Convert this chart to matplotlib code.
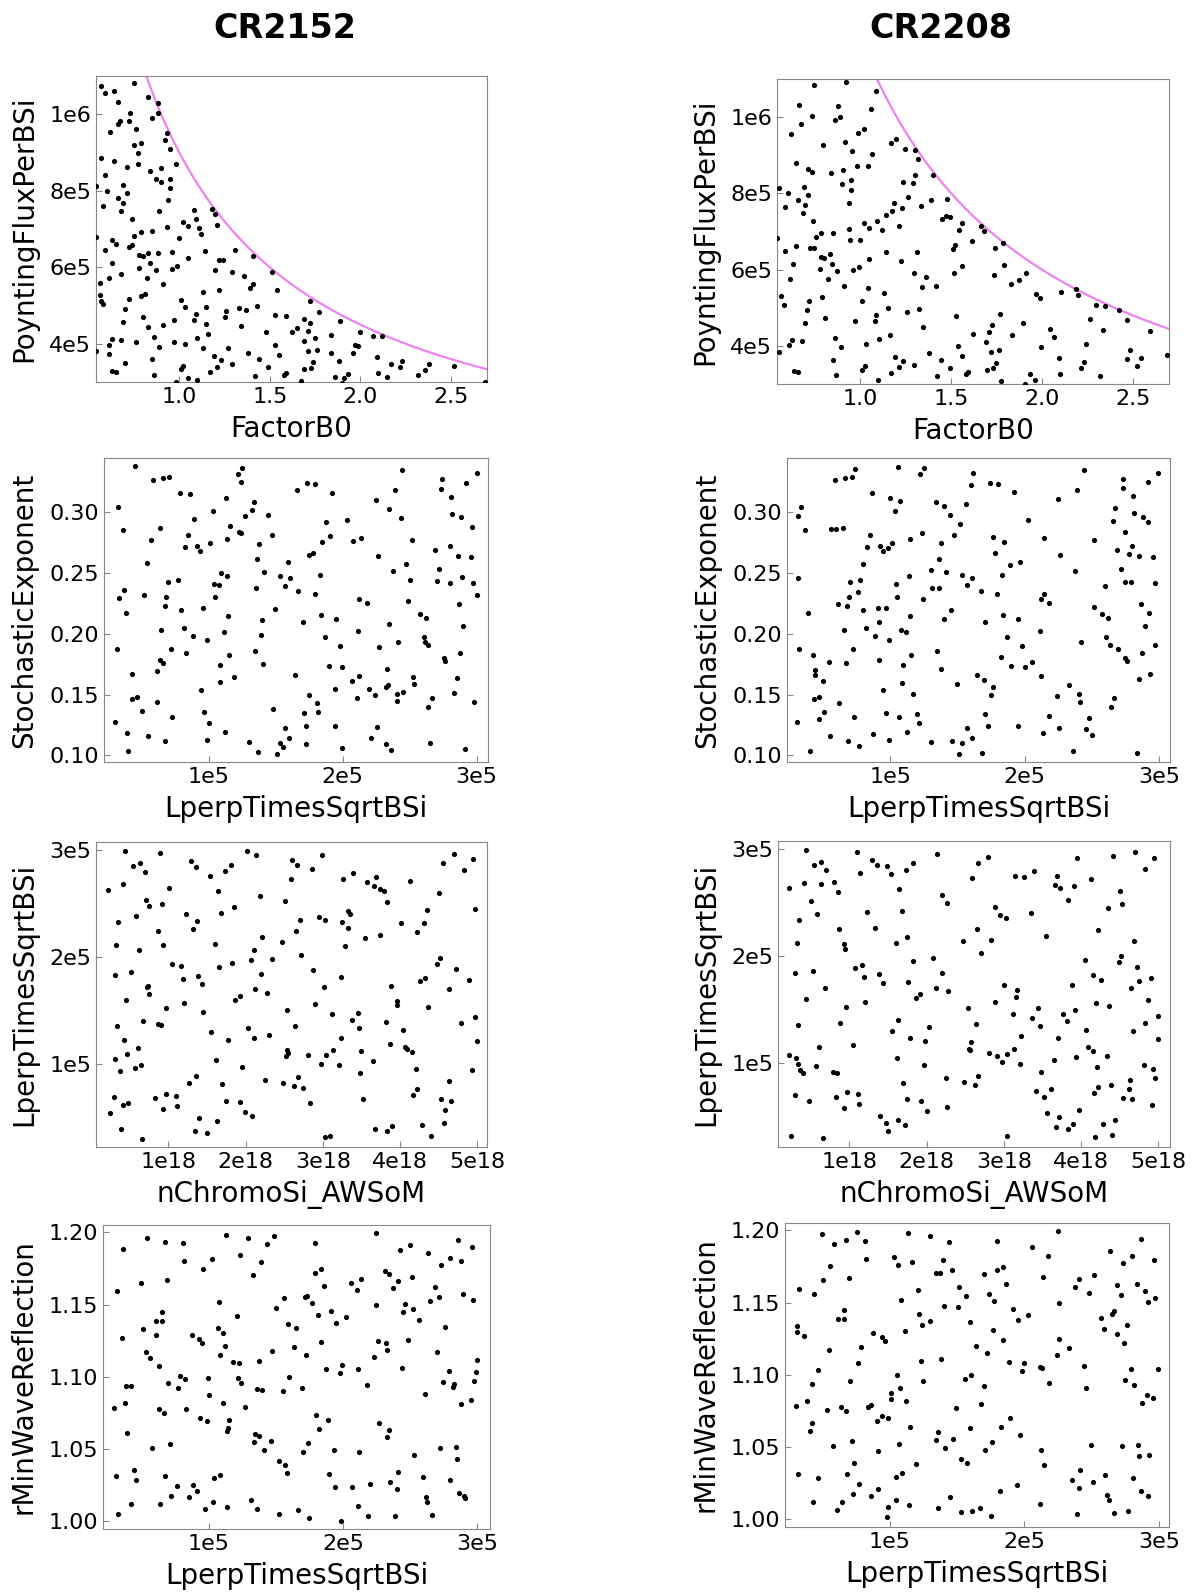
import matplotlib
matplotlib.use("Agg")
import matplotlib.pyplot as plt
import numpy as np

# ---------------------------------------------------------------------------
# Valeurs (x, y) pour chaque panneau
# ---------------------------------------------------------------------------
# Ligne 1 : FactorB0 vs PoyntingFluxPerBSi (y en unites de 1e5)
b0_pflux_2152 = [
    (0.57,10.75),(0.75,10.83),(0.59,10.55),(0.64,10.61),(0.66,10.32),(0.83,10.45),(0.88,10.29),(0.85,9.91),
    (0.88,10.02),(0.73,10.03),(0.72,9.83),(0.67,9.82),(0.66,9.74),(0.76,9.62),(0.62,9.54),(0.93,9.52),
    (0.92,9.32),(0.75,9.19),(0.79,9.25),(0.77,9.00),(0.95,9.08),(0.57,8.85),(0.64,8.79),(0.71,8.62),
    (0.77,8.69),(0.98,8.70),(0.90,8.60),(0.84,8.52),(0.59,8.41),(0.87,8.31),(0.90,8.23),(0.95,8.32),
    (0.95,8.06),(0.54,8.12),(0.69,8.16),(0.60,8.00),(0.71,7.94),(0.66,7.81),(0.69,7.67),(0.94,7.75),
    (0.58,7.61),(0.68,7.47),(0.89,7.46),(1.18,7.53),(1.08,7.50),(1.20,7.39),(0.74,7.26),(1.02,7.18),
    (1.05,7.07),(1.09,7.25),(1.11,7.02),(1.21,7.11),(1.12,6.88),(0.93,7.05),(0.79,6.92),(0.85,6.94),
    (0.75,6.83),(0.54,6.80),(1.00,6.76),(0.63,6.71),(0.65,6.60),(0.72,6.54),(0.74,6.57),(0.59,6.46),
    (1.14,6.43),(1.31,6.44),(0.96,6.40),(0.83,6.38),(0.88,6.36),(0.78,6.32),(0.80,6.30),(1.05,6.25),
    (1.41,6.29),(1.22,6.18),(1.24,6.19),(0.63,6.11),(0.84,6.12),(0.78,5.99),(0.96,5.96),(0.99,6.04),
    (0.87,5.94),(1.20,5.92),(1.51,5.88),(1.29,5.87),(1.36,5.78),(0.68,5.82),(0.56,5.58),(0.61,5.73),
    (0.82,5.72),(0.91,5.55),(1.41,5.55),(1.39,5.46),(1.22,5.40),(1.54,5.41),(1.13,5.35),(0.56,5.28),
    (0.81,5.31),(0.79,5.24),(0.57,5.11),(0.58,5.05),(0.72,5.16),(1.01,5.14),(1.72,5.13),(0.70,4.90),
    (1.03,4.95),(1.15,4.96),(1.33,4.93),(1.37,4.89),(1.43,5.00),(1.77,4.82),(1.26,4.85),(1.25,4.69),
    (0.80,4.70),(1.09,4.78),(1.08,4.62),(0.69,4.57),(0.97,4.61),(1.53,4.75),(1.59,4.72),(1.69,4.66),
    (1.72,4.54),(1.89,4.59),(0.83,4.43),(0.91,4.48),(1.15,4.52),(1.34,4.46),(0.63,4.12),(0.61,3.98),
    (0.76,4.05),(0.68,4.09),(0.86,4.17),(1.10,4.14),(1.16,4.26),(1.48,4.32),(1.62,4.30),(1.65,4.41),
    (1.71,4.34),(1.84,4.24),(2.00,4.31),(2.07,4.21),(2.12,4.19),(0.54,3.80),(0.61,3.73),(0.89,3.92),
    (0.97,4.04),(1.03,4.00),(1.13,3.90),(1.27,3.89),(1.38,3.77),(1.53,3.96),(1.55,3.70),(1.69,4.06),
    (1.71,3.81),(1.75,4.15),(1.76,3.84),(1.84,3.75),(1.97,3.96),(1.99,3.93),(1.96,3.75),(0.70,3.50),
    (0.85,3.59),(1.19,3.68),(1.23,3.57),(1.21,3.40),(1.29,3.46),(1.44,3.61),(1.49,3.38),(1.69,3.35),
    (1.73,3.36),(1.74,3.52),(1.88,3.55),(2.09,3.65),(2.17,3.48),(2.23,3.54),(2.22,3.39),(2.38,3.46),
    (2.52,3.42),(0.63,3.30),(0.65,3.26),(0.86,3.18),(1.01,3.33),(1.02,3.43),(1.05,3.10),(1.10,3.05),
    (1.17,3.25),(1.42,3.16),(1.58,3.18),(1.59,3.23),(1.67,3.02),(1.86,3.14),(1.91,3.10),(1.93,3.20),
    (2.10,3.23),(2.15,3.12),(2.32,3.17),(2.36,3.32),(2.69,3.00),(0.98,3.01),(1.90,2.97)]

b0_pflux_2208 = [
    (0.746,10.83),(0.921,10.93),(1.085,10.68),(0.662,10.32),(0.877,10.29),(0.671,9.83),(0.735,10.03),(0.857,9.92),
    (0.886,10.01),(1.059,10.22),(0.618,9.55),(0.989,9.59),(1.020,9.68),(0.917,9.34),(0.794,9.27),(0.954,9.10),
    (1.169,9.32),(1.193,9.42),(1.244,9.17),(1.301,9.13),(1.316,8.89),(1.064,9.02),(0.643,8.80),(0.713,8.65),
    (0.732,8.57),(0.838,8.53),(0.903,8.61),(0.982,8.72),(1.039,8.73),(1.300,8.49),(1.399,8.47),(0.551,8.14),
    (0.601,8.02),(0.687,8.17),(0.710,7.96),(0.658,7.83),(0.693,7.69),(0.682,7.48),(0.583,7.63),(0.899,8.24),
    (0.947,8.34),(0.950,8.09),(0.938,7.76),(1.235,8.30),(1.287,8.27),(1.263,7.91),(1.184,7.75),(1.175,7.54),
    (1.228,7.62),(1.336,7.66),(1.390,7.82),(1.474,7.86),(0.739,7.28),(0.934,7.07),(1.020,7.21),(1.046,7.09),
    (1.116,7.04),(1.092,7.27),(1.138,7.44),(1.210,7.14),(1.450,7.33),(1.471,7.41),(1.493,7.39),(1.562,7.23),
    (1.542,7.05),(1.662,7.15),(1.678,7.00),(0.542,6.82),(0.586,6.48),(0.647,6.61),(0.721,6.56),(0.743,6.58),
    (0.757,6.86),(0.785,6.95),(0.847,6.96),(0.943,6.77),(0.996,6.79),(1.142,6.45),(1.311,6.46),(1.509,6.53),
    (1.522,6.65),(1.616,6.75),(1.741,6.58),(1.787,6.69),(0.629,6.14),(0.614,5.76),(0.776,6.02),(0.783,6.33),
    (0.798,6.31),(0.831,6.40),(0.842,6.15),(0.873,5.97),(0.822,5.75),(0.960,5.98),(0.993,6.06),(1.048,6.27),
    (1.222,6.22),(1.294,5.90),(1.360,5.81),(1.340,5.54),(1.517,5.90),(1.561,6.10),(1.737,5.86),(1.792,6.11),
    (1.827,5.62),(1.875,5.73),(1.910,5.92),(0.561,5.32),(0.579,5.07),(0.717,5.19),(0.704,4.94),(0.695,4.59),
    (0.790,5.27),(0.805,4.74),(0.908,5.57),(1.011,5.18),(1.040,5.52),(0.972,4.64),(1.081,4.66),(1.088,4.80),
    (1.132,5.38),(1.153,5.00),(1.259,4.88),(1.325,4.97),(1.344,4.50),(1.417,5.58),(1.529,4.79),(1.965,5.36),
    (1.987,5.25),(2.105,5.40),(2.186,5.48),(2.199,5.34),(2.300,5.06),(2.346,5.04),(2.426,4.95),(2.467,4.68),
    (1.767,4.83),(1.722,4.56),(1.619,4.32),(1.710,4.37),(1.836,4.28),(1.897,4.61),(2.046,4.44),(2.068,4.24),
    (2.265,4.71),(2.338,4.42),(2.597,4.38),(0.553,3.83),(0.608,4.03),(0.625,4.15),(0.678,4.12),(0.858,4.20),
    (0.893,3.96),(1.033,4.04),(1.103,4.17),(1.164,4.29),(0.851,3.62),(0.866,3.23),(1.007,3.37),(1.024,3.48),
    (1.097,3.10),(1.169,3.28),(1.189,3.72),(1.213,3.45),(1.232,3.61),(1.296,3.51),(1.379,3.82),(1.441,3.64),
    (1.421,3.20),(1.494,3.41),(1.535,4.00),(1.557,3.74),(1.581,3.25),(1.590,3.31),(1.689,4.10),(1.717,3.84),
    (1.699,3.38),(1.732,3.41),(1.746,3.55),(1.761,3.88),(1.774,3.07),(1.906,3.01),(1.936,3.26),(1.963,3.11),
    (1.993,3.97),(2.096,3.69),(2.099,3.27),(2.241,4.05),(2.232,3.57),(2.215,3.43),(2.322,3.21),(2.471,3.66),
    (2.483,3.89),(2.524,3.46),(2.546,3.67),(2.689,3.76),(0.632,3.33),(0.653,3.31)]

# Ligne 2 : LperpTimesSqrtBSi (x en 1e5) vs StochasticExponent
lperp_stoch_2152 = [
    (0.449,0.338),(0.581,0.3263),(0.656,0.3282),(0.703,0.3293),(1.244,0.3364),(1.219,0.3312),(1.242,0.3249),(3.0,0.3323),
    (2.738,0.3274),(2.444,0.3351),(2.92,0.3244),(1.656,0.3186),(1.733,0.3238),(1.796,0.323),(1.918,0.3162),(0.781,0.3159),
    (0.858,0.3153),(1.127,0.3118),(2.249,0.3104),(2.389,0.3181),(2.731,0.3195),(2.808,0.3129),(0.322,0.3041),(1.03,0.3008),
    (1.322,0.3019),(1.339,0.3085),(1.272,0.2967),(1.441,0.2981),(2.03,0.2937),(1.878,0.2923),(2.344,0.3027),(2.434,0.2953),
    (2.818,0.2989),(2.883,0.2962),(0.888,0.2942),(0.357,0.2855),(0.638,0.2874),(1.155,0.289),(1.227,0.2841),(1.237,0.2833),
    (2.965,0.2882),(0.843,0.2811),(1.469,0.2816),(1.908,0.2803),(2.075,0.2764),(2.14,0.2789),(0.569,0.277),(0.82,0.2715),
    (0.915,0.2726),(0.935,0.2682),(1.007,0.2751),(1.137,0.2778),(1.377,0.2742),(1.843,0.2756),(2.521,0.2773),(2.688,0.2693),
    (2.8,0.2721),(0.541,0.2581),(1.359,0.2616),(1.589,0.2594),(1.746,0.2647),(1.778,0.2666),(2.264,0.2644),(2.858,0.2638),
    (2.96,0.263),(2.721,0.2534),(2.379,0.252),(2.471,0.2575),(0.771,0.2444),(0.693,0.2427),(1.092,0.2499),(1.132,0.2477),
    (1.042,0.2414),(1.077,0.2403),(1.414,0.251),(1.534,0.2479),(1.606,0.246),(1.566,0.2397),(1.828,0.2485),(2.506,0.2447),
    (2.703,0.2438),(2.798,0.2422),(2.89,0.2466),(2.975,0.2416),(0.367,0.2362),(0.329,0.2293),(0.514,0.2318),(0.683,0.2304),
    (1.047,0.2299),(1.354,0.2381),(1.668,0.2356),(1.793,0.2331),(2.125,0.2285),(2.185,0.2255),(2.486,0.2266),(2.868,0.2249),
    (3.005,0.232),(0.379,0.217),(0.671,0.2227),(0.791,0.2197),(0.958,0.2216),(1.145,0.2145),(1.394,0.2115),(1.494,0.2205),
    (1.703,0.2101),(1.838,0.2151),(1.953,0.2118),(2.349,0.2077),(2.574,0.2159),(2.623,0.2129),(2.9,0.2068),(0.643,0.2033),
    (0.813,0.2044),(0.88,0.1986),(1.11,0.2011),(1.389,0.1992),(0.983,0.1951),(1.865,0.1975),(2.115,0.2025),(2.416,0.1929),
    (2.606,0.1973),(2.618,0.1931),(2.636,0.1907),(0.312,0.1877),(0.716,0.1871),(0.828,0.1846),(1.15,0.1827),(1.344,0.1855),
    (1.978,0.1896),(2.274,0.189),(2.875,0.1844),(2.753,0.18),(2.761,0.1778),(0.633,0.1781),(0.658,0.1759),(0.616,0.169),
    (1.085,0.1742),(1.404,0.1748),(0.429,0.1666),(1.641,0.166),(1.895,0.1731),(1.998,0.1726),(2.12,0.1655),(2.07,0.1614),
    (2.332,0.1712),(2.526,0.1644),(2.85,0.1633),(1.082,0.16),(1.187,0.1641),(0.945,0.1537),(1.94,0.1545),(2.195,0.1542),
    (2.239,0.1493),(2.322,0.1559),(2.337,0.1575),(2.406,0.1507),(2.449,0.152),(2.536,0.1583),(0.424,0.1463),(0.464,0.1477),
    (0.611,0.1436),(1.751,0.1496),(1.81,0.1427),(2.11,0.1471),(2.409,0.1444),(2.668,0.1474),(2.833,0.1512),(2.98,0.1441),
    (0.499,0.1364),(1.481,0.1378),(0.963,0.1353),(0.728,0.1318),(1.815,0.1356),(2.638,0.1397),(1.711,0.1345),(0.297,0.1274),
    (0.389,0.1181),(0.546,0.1162),(0.676,0.1118),(0.998,0.1263),(1.117,0.1194),(0.985,0.1129),(1.571,0.1224),(1.728,0.1238),
    (1.945,0.1244),(2.254,0.123),(2.212,0.114),(1.299,0.1112),(1.529,0.1104),(1.599,0.1142),(1.556,0.1066),(1.723,0.1091),
    (2.324,0.1096),(2.357,0.1041),(2.651,0.1098),(2.91,0.1052),(0.397,0.1035),(1.367,0.1027),(1.506,0.1014),(1.993,0.1057)]

lperp_stoch_2208 = [
    (1.057,0.3375),(1.25,0.3364),(1.223,0.3315),(0.735,0.3359),(0.713,0.3293),(0.661,0.3285),(0.587,0.3266),(1.614,0.3323),
    (1.597,0.3222),(1.738,0.3238),(1.802,0.323),(2.443,0.3351),(2.733,0.3274),(2.918,0.3247),(2.993,0.3326),(0.861,0.3156),
    (1.918,0.3164),(2.389,0.3184),(2.728,0.3197),(2.802,0.3132),(0.998,0.3115),(1.072,0.3093),(1.035,0.3011),(1.342,0.3088),
    (1.401,0.3055),(1.446,0.2981),(1.564,0.3068),(2.248,0.3107),(2.668,0.3038),(2.814,0.2992),(2.879,0.2962),(2.913,0.2921),
    (0.317,0.2973),(0.334,0.3044),(0.366,0.2855),(0.559,0.286),(0.594,0.2866),(0.646,0.2874),(2.027,0.2937),(2.653,0.2932),
    (2.743,0.2838),(1.515,0.2904),(0.847,0.2811),(1.235,0.2833),(1.475,0.2816),(1.765,0.2797),(1.844,0.2756),(2.144,0.2789),
    (2.517,0.2773),(2.686,0.2693),(2.797,0.2721),(2.772,0.2655),(2.851,0.2641),(2.95,0.263),(0.829,0.2715),(0.921,0.2726),
    (0.943,0.2685),(0.98,0.2704),(1.012,0.2751),(1.144,0.2778),(1.379,0.2745),(1.78,0.2668),(2.262,0.2647),(0.795,0.2573),
    (1.364,0.2616),(1.418,0.251),(1.3,0.2523),(1.968,0.2589),(1.891,0.2567),(2.376,0.252),(2.715,0.2534),(0.312,0.2458),
    (0.7,0.2427),(0.777,0.2444),(1.045,0.2414),(1.139,0.2477),(1.312,0.2373),(1.359,0.2381),(1.537,0.2482),(1.569,0.24),
    (1.606,0.2463),(1.673,0.2356),(1.829,0.2485),(1.797,0.2331),(2.594,0.2394),(2.745,0.2425),(2.792,0.2425),(2.97,0.2419),
    (0.691,0.2304),(0.76,0.2345),(0.611,0.2244),(0.681,0.2227),(0.911,0.2214),(0.965,0.2216),(1.05,0.2301),(0.797,0.22),
    (1.149,0.2145),(1.24,0.229),(1.455,0.2194),(1.399,0.2118),(1.708,0.2101),(1.839,0.2151),(1.953,0.212),(2.121,0.2285),
    (2.146,0.2326),(2.183,0.2255),(2.515,0.2222),(2.572,0.2159),(2.619,0.2131),(2.861,0.2249),(2.923,0.2175),(2.894,0.2068),
    (0.386,0.217),(0.653,0.2033),(0.819,0.2044),(0.884,0.1986),(0.916,0.2096),(0.988,0.1951),(1.079,0.203),(1.116,0.2011),
    (2.114,0.2025),(1.866,0.1975),(2.416,0.1929),(2.604,0.1973),(2.631,0.1907),(2.691,0.1879),(2.965,0.1909),(0.319,0.1874),
    (0.426,0.1822),(0.723,0.1871),(0.668,0.1756),(0.918,0.1783),(1.094,0.174),(1.153,0.1827),(1.349,0.1855),(1.376,0.1707),
    (1.822,0.1811),(1.899,0.1731),(1.978,0.1896),(2.0,0.1726),(2.057,0.1764),(2.748,0.18),(2.762,0.1775),(2.869,0.1844),
    (2.928,0.1668),(0.441,0.1704),(0.438,0.1663),(0.502,0.1608),(1.089,0.1597),(1.644,0.166),(1.698,0.1622),(1.767,0.1564),
    (1.752,0.1493),(1.498,0.1589),(2.121,0.1655),(0.433,0.1463),(0.473,0.1477),(0.619,0.1433),(0.542,0.1772),(0.948,0.1534),
    (1.168,0.1501),(2.238,0.149),(2.332,0.1578),(2.406,0.1501),(2.411,0.1441),(2.639,0.1394),(2.663,0.1471),(2.847,0.163),
    (0.507,0.1359),(0.468,0.1298),(0.733,0.1315),(0.97,0.135),(1.067,0.1318),(1.198,0.1339),(1.213,0.1263),(1.708,0.1342),
    (1.73,0.1238),(1.948,0.1241),(2.178,0.1323),(2.255,0.1227),(2.48,0.1304),(2.458,0.1216),(0.554,0.1159),(0.686,0.1115),
    (0.767,0.1079),(0.869,0.1175),(0.993,0.1123),(1.121,0.1192),(1.304,0.1109),(1.46,0.112),(1.532,0.1101),(1.574,0.1222),
    (1.604,0.114),(1.51,0.1011),(1.683,0.1016),(2.136,0.1183),(2.359,0.1038),(2.498,0.1164),(2.837,0.1019),(0.307,0.1271),
    (0.403,0.1033)]

# Ligne 3 : nChromoSi_AWSoM (x en 1e18) vs LperpTimesSqrtBSi (y en 1e5)
nchromo_lperp_2152 = [
    (0.436,2.994),(0.888,2.975),(2.02,2.997),(2.136,2.953),(2.993,2.959),(4.693,2.969),(4.943,2.916),(0.544,2.85),
    (0.63,2.878),(0.699,2.797),(1.293,2.897),(1.357,2.844),(1.818,2.866),(1.732,2.803),(1.542,2.759),(2.606,2.906),
    (2.666,2.863),(2.855,2.828),(2.588,2.728),(3.256,2.734),(3.389,2.791),(3.57,2.70),(3.682,2.747),(3.665,2.663),
    (3.734,2.641),(3.798,2.616),(3.824,2.516),(4.13,2.716),(4.56,2.884),(4.827,2.816),(0.217,2.631),(0.41,2.684),
    (1.013,2.647),(1.646,2.619),(2.192,2.569),(4.504,2.60),(0.716,2.531),(0.755,2.484),(0.918,2.50),(1.848,2.469),
    (2.511,2.522),(4.973,2.447),(0.35,2.331),(0.578,2.388),(1.228,2.406),(1.379,2.341),(1.684,2.413),(1.327,2.263),
    (0.867,2.25),(2.70,2.347),(2.653,2.247),(2.95,2.375),(3.023,2.353),(3.247,2.325),(3.325,2.428),(3.355,2.403),
    (3.325,2.272),(4.013,2.316),(4.349,2.441),(4.31,2.322),(4.224,2.234),(3.544,2.181),(3.738,2.209),(0.324,2.119),
    (0.621,2.072),(0.935,2.113),(1.607,2.122),(2.21,2.191),(2.115,2.066),(2.472,2.138),(3.286,2.106),(2.713,2.025),
    (4.513,1.994),(4.483,1.941),(0.307,1.834),(0.522,1.863),(1.043,1.938),(1.168,1.916),(1.194,1.797),(1.387,1.822),
    (1.435,1.747),(1.659,1.906),(1.827,1.95),(2.076,1.975),(2.339,1.984),(2.201,1.841),(2.124,1.703),(2.279,1.666),
    (2.873,1.878),(3.009,1.725),(3.238,1.813),(3.876,1.731),(4.254,1.775),(4.323,1.806),(4.719,1.894),(4.638,1.70),
    (4.896,1.791),(0.449,1.597),(0.733,1.734),(0.724,1.719),(0.746,1.656),(1.202,1.569),(1.452,1.488),(1.865,1.60),
    (1.926,1.638),(2.537,1.503),(2.894,1.563),(3.957,1.591),(3.966,1.553),(4.358,1.531),(4.784,1.384),(4.973,1.441),
    (0.341,1.353),(0.677,1.403),(0.867,1.375),(0.91,1.363),(0.966,1.525),(1.551,1.297),(1.779,1.228),(2.037,1.338),
    (2.106,1.241),(2.304,1.272),(2.644,1.359),(3.122,1.466),(3.23,1.247),(3.372,1.413),(3.45,1.475),(3.467,1.341),
    (3.815,1.391),(4.035,1.322),(3.871,1.184),(4.995,1.219),(0.427,1.222),(0.316,1.044),(0.466,1.094),(0.608,1.147),
    (0.57,0.963),(0.647,0.994),(0.371,0.934),(1.62,1.038),(1.96,0.978),(2.537,1.134),(2.55,1.106),(2.528,1.078),
    (2.804,1.088),(2.976,1.003),(3.036,1.081),(3.131,1.131),(3.208,0.988),(3.493,1.125),(3.48,0.916),(3.647,1.028),
    (4.069,1.156),(4.095,1.144),(4.155,1.109),(4.207,0.959),(4.926,0.941),(1.263,0.828),(1.366,0.888),(1.693,0.813),
    (2.253,0.856),(2.485,0.822),(2.632,0.791),(2.675,0.878),(2.748,0.781),(0.294,0.691),(0.419,0.616),(0.475,0.638),
    (0.832,0.681),(0.927,0.578),(0.97,0.725),(1.103,0.703),(1.116,0.609),(1.396,0.497),(1.753,0.656),(1.93,0.647),
    (1.999,0.55),(2.085,0.513),(2.83,0.634),(3.514,0.678),(4.168,0.716),(4.216,0.769),(4.629,0.838),(4.53,0.672),
    (4.655,0.659),(4.586,0.569),(0.242,0.544),(0.389,0.391),(0.66,0.30),(1.344,0.372),(1.504,0.359),(1.633,0.466),
    (3.032,0.316),(3.096,0.331),(3.669,0.397),(3.833,0.378),(3.897,0.422),(4.285,0.428),(4.401,0.325),(4.573,0.45)]

nchromo_lperp_2208 = [
    (0.435,2.994),(1.095,2.969),(2.138,2.956),(4.698,2.975),(2.797,2.922),(3.944,2.913),(4.409,2.931),(4.948,2.919),
    (0.543,2.853),(0.634,2.881),(0.694,2.80),(1.293,2.897),(1.358,2.85),(1.487,2.838),(1.539,2.763),(1.733,2.807),
    (1.819,2.869),(2.664,2.866),(1.138,2.772),(2.586,2.729),(3.142,2.744),(3.259,2.735),(3.397,2.794),(4.832,2.816),
    (0.216,2.632),(0.409,2.685),(0.638,2.669),(0.802,2.691),(0.858,2.594),(1.647,2.622),(3.69,2.75),(3.728,2.638),
    (3.668,2.663),(3.914,2.654),(4.134,2.719),(2.194,2.573),(2.259,2.498),(4.509,2.604),(4.53,2.482),(3.828,2.52),
    (0.504,2.513),(0.582,2.392),(0.345,2.332),(1.233,2.41),(1.685,2.417),(2.884,2.46),(2.957,2.379),(3.03,2.357),
    (3.353,2.404),(4.349,2.445),(0.871,2.254),(1.328,2.264),(2.655,2.248),(4.224,2.239),(0.319,2.117),(0.935,2.111),
    (0.948,2.061),(1.608,2.123),(1.746,2.179),(2.474,2.139),(2.84,2.145),(2.711,2.027),(3.547,2.186),(4.685,2.136),
    (4.517,2.0),(4.487,1.945),(0.302,1.839),(0.526,1.864),(0.685,1.696),(1.078,1.889),(1.168,1.92),(1.194,1.799),
    (1.388,1.827),(1.431,1.752),(1.828,1.952),(1.763,1.761),(2.078,1.977),(2.203,1.842),(2.125,1.705),(2.276,1.671),
    (1.922,1.643),(1.866,1.605),(4.047,1.967),(4.151,1.821),(4.259,1.777),(4.728,1.896),(4.75,1.768),(4.642,1.702),
    (4.901,1.796),(0.444,1.599),(0.961,1.527),(1.203,1.574),(2.539,1.509),(2.642,1.362),(2.892,1.568),(3.009,1.727),
    (3.172,1.68),(3.155,1.612),(3.12,1.46),(3.444,1.509),(3.371,1.418),(3.47,1.346),(3.884,1.733),(3.767,1.456),
    (3.819,1.393),(3.922,1.499),(4.198,1.562),(4.362,1.534),(4.871,1.593),(0.336,1.356),(0.879,1.378),(1.547,1.303),
    (1.629,1.403),(2.034,1.34),(1.983,1.209),(1.78,1.234),(3.228,1.25),(3.698,1.237),(4.065,1.309),(4.823,1.371),
    (4.668,1.296),(4.991,1.443),(5.0,1.222),(0.603,1.153),(0.224,1.075),(0.31,1.047),(0.332,0.994),(0.366,0.938),
    (0.397,0.906),(0.569,0.969),(1.047,1.169),(0.789,0.913),(0.845,0.903),(1.621,1.044),(1.961,0.981),(2.565,1.119),
    (2.578,1.193),(2.556,1.134),(2.806,1.09),(2.909,1.066),(2.983,1.009),(3.039,1.087),(3.129,1.134),(3.211,0.988),
    (3.651,1.031),(3.931,1.056),(4.091,1.147),(4.159,1.112),(4.207,0.963),(4.336,1.069),(4.81,0.978),(4.931,0.947),
    (4.957,0.863),(1.694,0.816),(2.25,0.86),(2.487,0.825),(2.629,0.794),(2.672,0.881),(3.478,0.919),(0.293,0.697),
    (0.474,0.644),(0.828,0.685),(0.927,0.582),(0.97,0.729),(1.108,0.707),(1.121,0.616),(1.397,0.501),(1.474,0.438),
    (1.504,0.36),(1.629,0.47),(1.72,0.42),(1.75,0.66),(1.931,0.647),(2.004,0.551),(2.267,0.588),(3.418,0.735),
    (3.517,0.679),(3.56,0.535),(3.612,0.76),(3.711,0.495),(3.672,0.398),(3.836,0.382),(3.901,0.426),(3.974,0.557),
    (4.172,0.719),(4.216,0.772),(4.384,0.791),(4.629,0.841),(4.625,0.754),(4.539,0.676),(4.659,0.663),(4.922,0.61),
    (4.289,0.432),(4.44,0.463),(4.181,0.307),(4.401,0.329),(0.25,0.314),(0.655,0.301),(3.047,0.32)]

# Ligne 4 : LperpTimesSqrtBSi (x en 1e5) vs rMinWaveReflection
lperp_rmin_2152 = [
    (0.537,1.1961),(0.672,1.1935),(0.806,1.1924),(1.127,1.1979),(1.296,1.1963),(1.485,1.1972),(1.435,1.1919),(2.244,1.1995),
    (1.791,1.1928),(2.861,1.1945),(2.96,1.1901),(2.5,1.1912),(0.363,1.1882),(2.428,1.1875),(2.632,1.1859),(1.236,1.1841),
    (1.022,1.1815),(0.818,1.1799),(1.388,1.1794),(2.799,1.1824),(2.883,1.1804),(0.958,1.1744),(1.333,1.1704),(1.789,1.1721),
    (1.838,1.1748),(2.313,1.1734),(2.343,1.1711),(2.731,1.1776),(2.515,1.1691),(0.318,1.1596),(0.493,1.1651),(0.687,1.1667),
    (2.408,1.1665),(2.684,1.1624),(1.856,1.1628),(2.062,1.1649),(2.102,1.16),(2.134,1.1679),(2.376,1.1612),(1.077,1.152),
    (1.56,1.1543),(1.714,1.155),(1.729,1.1559),(1.771,1.1513),(2.647,1.1524),(2.716,1.1552),(2.898,1.1575),(2.97,1.1529),
    (1.5,1.1473),(0.649,1.1448),(0.604,1.1383),(0.654,1.1388),(1.214,1.1423),(1.811,1.1427),(1.913,1.1455),(1.945,1.1374),
    (2.02,1.1411),(2.249,1.1499),(2.465,1.1506),(2.445,1.145),(2.52,1.1469),(2.57,1.1395),(0.51,1.1328),(1.07,1.1335),
    (1.107,1.1305),(1.59,1.1367),(1.652,1.1337),(2.759,1.1344),(0.353,1.1268),(0.609,1.1291),(0.871,1.1289),(0.93,1.1261),
    (0.953,1.1231),(1.119,1.1215),(1.833,1.124),(2.261,1.1247),(2.321,1.1236),(2.331,1.1182),(2.483,1.1256),(2.231,1.1136),
    (0.535,1.1171),(0.565,1.1127),(0.629,1.1076),(1.085,1.1152),(1.473,1.118),(1.637,1.1203),(1.724,1.1148),(1.182,1.1099),
    (1.226,1.1095),(1.371,1.1106),(2.699,1.1169),(3.0,1.1118),(1.876,1.1055),(1.975,1.1023),(1.995,1.1081),(2.109,1.1051),
    (2.443,1.106),(2.791,1.1039),(2.993,1.1035),(2.978,1.0968),(2.749,1.0963),(2.818,1.0931),(2.831,1.0947),(2.878,1.0808),
    (2.955,1.0838),(0.383,1.0938),(0.418,1.0935),(0.699,1.0958),(0.786,1.1005),(0.821,1.0984),(0.774,1.0919),(0.993,1.0991),
    (1.219,1.0988),(1.241,1.0954),(1.361,1.0915),(1.398,1.0905),(1.6,1.0995),(1.55,1.0898),(1.697,1.0924),(2.179,1.0945),
    (2.612,1.088),(0.291,1.0783),(0.373,1.082),(0.632,1.0778),(0.667,1.0748),(0.833,1.0774),(0.938,1.0716),(0.983,1.0695),
    (1.002,1.0871),(1.109,1.0815),(1.149,1.0702),(1.142,1.0647),(1.139,1.0626),(1.269,1.0788),(1.801,1.0734),(1.891,1.0697),
    (1.821,1.064),(2.271,1.0677),(2.343,1.0628),(2.326,1.0582),(1.338,1.0547),(1.348,1.0603),(1.378,1.0587),(1.41,1.049),
    (1.465,1.0554),(0.388,1.0612),(0.575,1.0506),(0.711,1.0536),(1.525,1.0413),(1.567,1.039),(1.582,1.0335),(1.701,1.048),
    (1.739,1.0538),(1.935,1.0494),(2.119,1.0476),(2.726,1.0503),(2.846,1.0513),(2.853,1.0432),(2.532,1.0455),(0.308,1.0312),
    (0.445,1.0351),(0.46,1.0286),(0.677,1.0314),(0.766,1.0245),(0.883,1.0249),(0.91,1.021),(0.721,1.0171),(0.851,1.0164),
    (1.042,1.0296),(1.085,1.0319),(1.9,1.0323),(1.94,1.0236),(2.07,1.0238),(2.204,1.0259),(2.351,1.027),(2.403,1.0219),
    (2.413,1.0342),(2.6,1.0303),(2.801,1.0282),(2.866,1.0196),(2.9,1.0176),(2.91,1.0162),(2.617,1.0169),(2.627,1.0134),
    (0.423,1.0118),(0.639,1.0115),(0.975,1.0085),(1.035,1.0129),(1.132,1.0099),(1.316,1.0145),(1.356,1.0083),(1.522,1.0051),
    (1.662,1.0074),(1.746,1.0018),(1.985,1.0002),(2.114,1.0104),(2.189,1.0032),(2.386,1.0035),(2.664,1.0039),(0.323,1.0048)]

lperp_rmin_2208 = [
    (0.495,1.1977),(0.752,1.1989),(0.587,1.1908),(0.676,1.1936),(0.812,1.1924),(1.134,1.1979),(1.3,1.1961),(1.438,1.192),
    (1.797,1.1929),(2.248,1.1995),(2.057,1.1887),(2.864,1.1943),(2.636,1.186),(2.965,1.1793),(0.557,1.1756),(0.824,1.18),
    (1.03,1.1816),(1.062,1.1759),(1.163,1.1782),(1.396,1.1795),(1.339,1.1703),(1.371,1.1708),(1.458,1.1726),(1.792,1.1722),
    (1.842,1.1747),(2.176,1.1821),(2.733,1.1777),(2.797,1.1825),(0.324,1.1595),(0.436,1.1556),(0.5,1.1653),(0.696,1.1669),
    (1.696,1.1697),(1.864,1.1628),(2.139,1.168),(2.379,1.1611),(2.408,1.1664),(2.517,1.1692),(2.478,1.1568),(2.686,1.1623),
    (2.837,1.163),(2.896,1.1577),(2.921,1.1503),(2.973,1.1529),(2.718,1.1552),(1.082,1.152),(1.21,1.1584),(1.51,1.1607),
    (1.567,1.1543),(1.735,1.1559),(1.775,1.1513),(1.399,1.1476),(1.505,1.1471),(2.255,1.1499),(0.656,1.1448),(0.611,1.1384),
    (0.661,1.1389),(1.218,1.1423),(1.235,1.1347),(1.295,1.1372),(1.597,1.1368),(1.765,1.1308),(1.916,1.1457),(1.95,1.1377),
    (2.025,1.1411),(2.572,1.1395),(2.649,1.1421),(2.663,1.1444),(2.594,1.1315),(2.688,1.128),(2.743,1.1223),(2.76,1.1345),
    (0.312,1.1338),(0.307,1.1294),(0.359,1.1269),(0.876,1.1287),(0.938,1.126),(0.96,1.1232),(1.111,1.1303),(0.787,1.1193),
    (0.547,1.1172),(0.76,1.1083),(0.705,1.0959),(0.463,1.103),(0.423,1.0936),(0.381,1.0821),(0.3,1.0782),(0.53,1.0756),
    (0.639,1.0779),(0.671,1.0749),(0.839,1.0775),(0.861,1.0791),(1.005,1.0834),(1.01,1.0871),(1.05,1.0998),(1.074,1.091),
    (1.116,1.0818),(1.639,1.1202),(1.725,1.1147),(1.837,1.1239),(1.884,1.1087),(1.978,1.1023),(1.998,1.108),(2.114,1.1051),
    (2.131,1.1044),(2.181,1.0945),(2.238,1.1136),(2.257,1.1248),(2.332,1.1184),(2.441,1.1062),(2.458,1.0906),(1.376,1.1108),
    (1.23,1.1097),(1.248,1.0954),(1.559,1.097),(1.601,1.0995),(1.7,1.0924),(1.678,1.0795),(1.493,1.0768),(2.792,1.1037),
    (2.75,1.0963),(2.814,1.0931),(2.876,1.0807),(2.913,1.086),(2.953,1.0841),(2.995,1.1037),(0.403,1.0611),(0.418,1.0667),
    (0.906,1.068),(0.941,1.0715),(0.988,1.0697),(1.147,1.0635),(1.354,1.0602),(1.47,1.0556),(1.592,1.0634),(1.824,1.0639),
    (1.894,1.0699),(1.965,1.0579),(1.342,1.0547),(1.411,1.0492),(1.703,1.048),(1.76,1.0531),(0.579,1.0506),(0.715,1.0538),
    (0.908,1.0471),(1.067,1.0522),(2.119,1.0476),(2.144,1.0372),(2.493,1.051),(2.728,1.0503),(2.847,1.0515),(2.851,1.0434),
    (2.926,1.0441),(0.314,1.031),(0.465,1.0287),(0.73,1.0389),(0.683,1.0315),(0.77,1.0244),(0.723,1.0172),(0.913,1.0211),
    (1.045,1.0294),(1.087,1.032),(1.191,1.0384),(1.53,1.0416),(1.569,1.0391),(1.943,1.0237),(2.356,1.0271),(2.413,1.0343),
    (2.403,1.0218),(2.512,1.0255),(2.601,1.0303),(2.616,1.017),(2.629,1.0133),(2.804,1.0283),(2.869,1.0195),(2.916,1.0159),
    (0.431,1.012),(0.606,1.0062),(0.646,1.0115),(0.856,1.0163),(0.983,1.0087),(0.978,1.0011),(1.042,1.0129),(1.139,1.0099),
    (1.356,1.008),(1.45,1.0152),(1.527,1.0051),(1.609,1.0057),(1.666,1.0074),(1.748,1.0018),(1.819,1.0191),(2.116,1.0103),
    (2.389,1.0034),(2.663,1.0039),(2.77,1.0055)]

# Limite superieure FactorB0 * PoyntingFluxPerBSi (courbe violette)
pflux_bound = {"CR2152": 9.0e5, "CR2208": 1.2e6}

cr_names = ["CR2152", "CR2208"]

# ---------------------------------------------------------------------------
# Figure
# ---------------------------------------------------------------------------
W, H = 1196, 1594
fig = plt.figure(figsize=(W / 100, H / 100), dpi=100)


def add_ax(x0, y0, x1, y1):
    # position en pixels (gauche, haut, droite, bas)
    return fig.add_axes([x0 / W, 1 - y1 / H, (x1 - x0) / W, (y1 - y0) / H])


def habille(ax, xlabel, ylabel, xlim, ylim, xticks, xtl, yticks, ytl):
    ax.set_xlim(xlim)
    ax.set_ylim(ylim)
    ax.set_xticks(xticks)
    ax.set_xticklabels(xtl)
    ax.set_yticks(yticks)
    ax.set_yticklabels(ytl)
    ax.tick_params(direction="in", labelsize=16, color="#888888", length=4)
    for sp in ax.spines.values():
        sp.set_color("#888888")
    ax.set_xlabel(xlabel, fontsize=20, labelpad=6)
    ax.set_ylabel(ylabel, fontsize=20, labelpad=8)


def nuage(ax, pts, sx=1.0, sy=1.0):
    p = np.array(pts)
    ax.scatter(p[:, 0] * sx, p[:, 1] * sy, s=14, c="black", linewidths=0, zorder=3)


boxes = {
    (0, 0): (96, 76, 487, 382), (0, 1): (777, 79, 1169, 384),
    (1, 0): (104, 458, 488, 762), (1, 1): (787, 458, 1170, 762),
    (2, 0): (96, 842, 487, 1147), (2, 1): (778, 841, 1170, 1147),
    (3, 0): (103, 1225, 490, 1529), (3, 1): (785, 1223, 1169, 1527),
}

row1 = [b0_pflux_2152, b0_pflux_2208]
row2 = [lperp_stoch_2152, lperp_stoch_2208]
row3 = [nchromo_lperp_2152, nchromo_lperp_2208]
row4 = [lperp_rmin_2152, lperp_rmin_2208]

xlim2 = [(0.217e5, 3.085e5), (0.233e5, 3.079e5)]
xlim3 = [(0.066e18, 5.124e18), (0.078e18, 5.151e18)]
ylim3 = [(0.225e5, 3.078e5), (0.214e5, 3.075e5)]
xlim4 = [(0.211e5, 3.097e5), (0.220e5, 3.074e5)]

for j, cr in enumerate(cr_names):
    # ---- FactorB0 / PoyntingFluxPerBSi
    ax = add_ax(*boxes[(0, j)])
    nuage(ax, row1[j], 1.0, 1e5)
    xs = np.linspace(0.5, 2.8, 400)
    ax.plot(xs, pflux_bound[cr] / xs, color="violet", lw=1.6, zorder=2)
    habille(ax, "FactorB0", "PoyntingFluxPerBSi", (0.54, 2.70), (3.0e5, 1.1e6),
            [1.0, 1.5, 2.0, 2.5], ["1.0", "1.5", "2.0", "2.5"],
            [4e5, 6e5, 8e5, 1e6], ["4e5", "6e5", "8e5", "1e6"])

    # ---- LperpTimesSqrtBSi / StochasticExponent
    ax = add_ax(*boxes[(1, j)])
    nuage(ax, row2[j], 1e5, 1.0)
    habille(ax, "LperpTimesSqrtBSi", "StochasticExponent", xlim2[j], (0.0945, 0.3447),
            [1e5, 2e5, 3e5], ["1e5", "2e5", "3e5"],
            [0.10, 0.15, 0.20, 0.25, 0.30], ["0.10", "0.15", "0.20", "0.25", "0.30"])

    # ---- nChromoSi_AWSoM / LperpTimesSqrtBSi
    ax = add_ax(*boxes[(2, j)])
    nuage(ax, row3[j], 1e18, 1e5)
    habille(ax, "nChromoSi_AWSoM", "LperpTimesSqrtBSi", xlim3[j], ylim3[j],
            [1e18, 2e18, 3e18, 4e18, 5e18], ["1e18", "2e18", "3e18", "4e18", "5e18"],
            [1e5, 2e5, 3e5], ["1e5", "2e5", "3e5"])

    # ---- LperpTimesSqrtBSi / rMinWaveReflection
    ax = add_ax(*boxes[(3, j)])
    nuage(ax, row4[j], 1e5, 1.0)
    habille(ax, "LperpTimesSqrtBSi", "rMinWaveReflection", xlim4[j], (0.9945, 1.2051),
            [1e5, 2e5, 3e5], ["1e5", "2e5", "3e5"],
            [1.00, 1.05, 1.10, 1.15, 1.20], ["1.00", "1.05", "1.10", "1.15", "1.20"])

# titres des colonnes
fig.text(285 / W, 1 - 28.5 / H, "CR2152", ha="center", va="center", fontsize=24, fontweight="bold")
fig.text(941 / W, 1 - 28.5 / H, "CR2208", ha="center", va="center", fontsize=24, fontweight="bold")

fig.savefig("out.png", dpi=100)
